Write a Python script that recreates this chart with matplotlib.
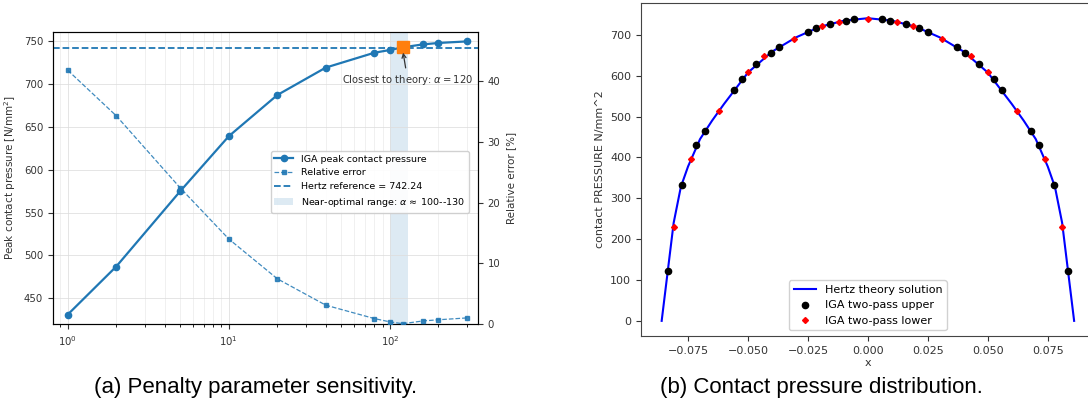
import matplotlib
matplotlib.use("Agg")
import matplotlib.pyplot as plt
from matplotlib.patches import Patch
from matplotlib.lines import Line2D

# ---------------- data: panel (a) ----------------
alpha = [1, 2, 5, 10, 20, 40, 80, 100, 120, 160, 200, 300]
peak_pressure = [431, 487, 575, 639, 687, 719, 736.3, 739.5, 742.6, 746, 747.7, 749.5]
rel_error = [41.8, 34.3, 22.4, 14.0, 7.45, 3.1, 0.9, 0.35, 0.05, 0.5, 0.7, 1.0]
hertz_ref = 742.24
best_alpha = 120
best_pressure = 742.6
band_lo, band_hi = 100, 130

# ---------------- data: panel (b) ----------------
hertz_x = [-0.086, -0.081, -0.078, -0.075, -0.070, -0.065, -0.060, -0.050, -0.040,
           -0.030, -0.020, -0.010, 0.0, 0.010, 0.020, 0.030, 0.040, 0.050, 0.060,
           0.065, 0.070, 0.075, 0.078, 0.081, 0.086]
hertz_p = [0, 240, 328, 378, 445, 490, 531, 608, 659, 694, 720, 735, 741, 735, 720,
           694, 659, 608, 531, 490, 445, 378, 328, 240, 0]

upper_x = [-0.0835, -0.0776, -0.0715, -0.0680, -0.0559, -0.0524, -0.0465, -0.0404,
           -0.0370, -0.0250, -0.0215, -0.0157, -0.0093, -0.0060,
           0.0060, 0.0093, 0.0157, 0.0215, 0.0250, 0.0370, 0.0404, 0.0465, 0.0524,
           0.0559, 0.0680, 0.0715, 0.0776, 0.0835]
upper_p = [123, 333, 431, 465, 564, 591, 629, 657, 671, 708, 717, 728, 735, 738,
           738, 735, 728, 717, 708, 671, 657, 629, 591, 564, 465, 431, 333, 123]

lower_x = [-0.0808, -0.0739, -0.0620, -0.0502, -0.0432, -0.0310, -0.0190, -0.0120,
           0.0, 0.0120, 0.0190, 0.0310, 0.0432, 0.0502, 0.0620, 0.0739, 0.0808]
lower_p = [231, 397, 515, 609, 648, 691, 722, 732, 740, 732, 722, 691, 648, 609,
           515, 397, 231]

BLUE = "#1f77b4"
ORANGE = "#ff7f0e"

fig = plt.figure(figsize=(10.88, 4.09), dpi=100)

# ---------------- panel (a) ----------------
ax = fig.add_axes([0.0487, 0.2078, 0.3906, 0.714])
ax.set_xscale("log")
ax.axvspan(band_lo, band_hi, color=BLUE, alpha=0.15, lw=0, zorder=0)
ax.axhline(hertz_ref, color=BLUE, ls="--", lw=1.3, zorder=2)
ax.plot(alpha, peak_pressure, "-o", color=BLUE, lw=1.6, ms=4.5, zorder=3)
ax.plot([best_alpha], [best_pressure], "s", color=ORANGE, ms=8, zorder=5)
ax.annotate(r"Closest to theory: $\alpha = 120$", xy=(best_alpha, best_pressure - 3),
            xytext=(129, 704), ha="center", va="center", fontsize=7.2, color="#333333",
            arrowprops=dict(arrowstyle="->", color="#333333", lw=0.9), zorder=6)
ax.set_xlim(0.81, 352)
ax.set_ylim(420, 760.5)
ax.set_yticks([450, 500, 550, 600, 650, 700, 750])
ax.grid(True, which="major", color="#dddddd", lw=0.6, alpha=0.9)
ax.grid(True, which="minor", axis="x", color="#e8e8e8", lw=0.5, alpha=0.9)
ax.set_axisbelow(True)
ax.tick_params(labelsize=7.3, colors="#333333")
ax.set_ylabel(r"Peak contact pressure [N/mm$^2$]", fontsize=7.5, color="#333333")
for s in ax.spines.values():
    s.set_color("#333333")

ax2 = ax.twinx()
ax2.plot(alpha, rel_error, "--s", color=BLUE, lw=0.9, ms=3.5, alpha=0.85, zorder=3)
ax2.set_ylim(0, 48.1)
ax2.set_yticks([0, 10, 20, 30, 40])
ax2.tick_params(labelsize=7.3, colors="#333333")
ax2.set_ylabel("Relative error [%]", fontsize=7.5, color="#333333")

handles = [
    Line2D([], [], color=BLUE, ls="-", marker="o", lw=1.6, ms=4.5),
    Line2D([], [], color=BLUE, ls="--", marker="s", lw=0.9, ms=3.5, alpha=0.85),
    Line2D([], [], color=BLUE, ls="--", lw=1.3),
    Patch(facecolor=BLUE, alpha=0.15, edgecolor="none"),
]
labels = ["IGA peak contact pressure", "Relative error",
          f"Hertz reference = {hertz_ref:.2f}",
          r"Near-optimal range: $\alpha \approx$ 100--130"]
ax2.legend(handles, labels, loc="lower right", bbox_to_anchor=(0.99, 0.365),
           fontsize=6.8, framealpha=0.9, edgecolor="#cccccc")

# ---------------- panel (b) ----------------
bx = fig.add_axes([0.5892, 0.1785, 0.417, 0.814])
bx.plot(hertz_x, hertz_p, color="blue", lw=1.5, label="Hertz theory solution")
bx.plot(upper_x, upper_p, "o", color="black", ms=4.5, ls="none",
        label="IGA two-pass upper")
bx.plot(lower_x, lower_p, "D", color="red", ms=3, ls="none",
        label="IGA two-pass lower")
bx.set_xticks([-0.075, -0.05, -0.025, 0, 0.025, 0.05, 0.075])
bx.set_yticks([0, 100, 200, 300, 400, 500, 600, 700])
bx.tick_params(labelsize=8, colors="#333333")
bx.set_xlabel("x", fontsize=8, color="#333333", labelpad=2)
bx.set_ylabel("contact PRESSURE N/mm^2", fontsize=8, color="#333333")
for s in bx.spines.values():
    s.set_color("#444444")
bx.legend(loc="lower center", fontsize=8, framealpha=0.9, edgecolor="#cccccc")

# ---------------- captions ----------------
fig.text(0.235, 0.052, "(a) Penalty parameter sensitivity.", ha="center", va="center",
         fontsize=16, family="Liberation Sans")
fig.text(0.755, 0.052, "(b) Contact pressure distribution.", ha="center", va="center",
         fontsize=16, family="Liberation Sans")

fig.savefig("out.png", dpi=100)
